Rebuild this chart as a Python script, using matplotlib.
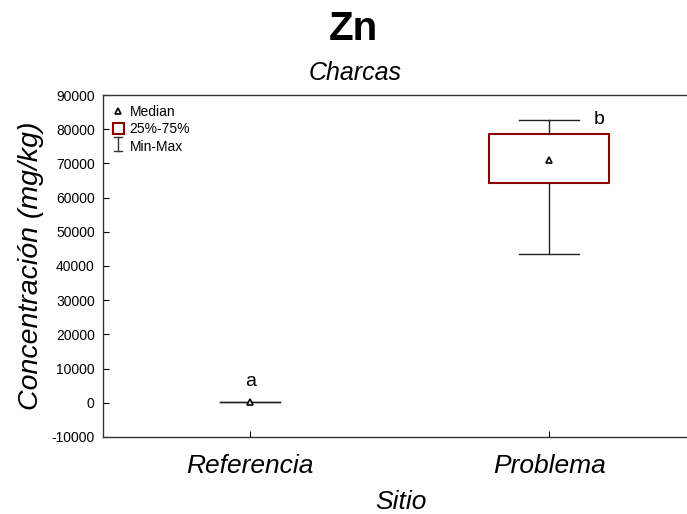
import matplotlib.pyplot as plt
from matplotlib.lines import Line2D
from matplotlib.patches import Patch
from matplotlib.legend_handler import HandlerBase

plt.rcParams['font.family'] = ['Liberation Sans', 'DejaVu Sans']
plt.rcParams['axes.unicode_minus'] = False

# datos (mg/kg)
sitios = ['Referencia', 'Problema']
minimos = [300, 43500]
q1 = [300, 64300]
medianas = [300, 71000]
q3 = [300, 78600]
maximos = [300, 82800]
letras = ['a', 'b']


class HandlerMinMax(HandlerBase):
    # simbolo tipo "I" para la leyenda
    def create_artists(self, legend, orig_handle, xd, yd, width, height, fontsize, trans):
        cx = xd + width / 2
        w = width * 0.35
        lines = [
            Line2D([cx, cx], [yd - 1, yd + height + 1]),
            Line2D([cx - w, cx + w], [yd + height + 1, yd + height + 1]),
            Line2D([cx - w, cx + w], [yd - 1, yd - 1]),
        ]
        for ln in lines:
            ln.set_color('#333333')
            ln.set_linewidth(1)
            ln.set_transform(trans)
        return lines


fig = plt.figure(figsize=(6.87, 5.14), dpi=100)
ax = fig.add_axes([0.150, 0.150, 0.8668, 0.665])

stats = []
for i, s in enumerate(sitios):
    stats.append({'label': s, 'whislo': minimos[i], 'q1': q1[i], 'med': medianas[i],
                  'q3': q3[i], 'whishi': maximos[i], 'fliers': []})

bp = ax.bxp(stats, positions=[0, 1], widths=0.4, capwidths=0.2, showfliers=False,
            boxprops=dict(color='#8b0000', linewidth=1.5),
            whiskerprops=dict(color='#222222', linewidth=1),
            capprops=dict(color='#222222', linewidth=1),
            medianprops=dict(linewidth=0))
# en Referencia la caja es tan estrecha que no se ve
bp['boxes'][0].set_visible(False)

ax.plot([0, 1], medianas, linestyle='none', marker='^', markersize=5,
        markerfacecolor='white', markeredgecolor='black', markeredgewidth=1.2, zorder=5)

for i, l in enumerate(letras):
    if i == 0:
        ax.text(i, maximos[i] + 3500, l, ha='center', va='bottom', fontsize=14)
    else:
        ax.text(i + 0.15, maximos[i], l, ha='left', va='center', fontsize=14)

ax.set_xlim(-0.492, 1.5)
ax.set_ylim(-10000, 90000)
ax.set_yticks(range(-10000, 90001, 10000))
ax.set_xticks([0, 1])
ax.set_xticklabels(sitios, fontsize=19, style='italic')
ax.tick_params(axis='y', direction='in', length=4, labelsize=10, pad=6)
ax.tick_params(axis='x', direction='in', length=4, pad=12)
ax.spines['right'].set_visible(False)
for sp in ['left', 'bottom', 'top']:
    ax.spines[sp].set_color('#333333')
    ax.spines[sp].set_linewidth(1)

ax.set_ylabel('Concentración (mg/kg)', fontsize=20.5, style='italic')
ax.yaxis.set_label_coords(-0.100, 0.5)
ax.set_xlabel('Sitio', fontsize=19, style='italic', labelpad=9)

fig.text(0.515, 0.944, 'Zn', ha='center', va='center', fontsize=29, fontweight='bold')
fig.text(0.517, 0.858, 'Charcas', ha='center', va='center', fontsize=18, style='italic')

handles = [
    Line2D([], [], linestyle='none', marker='^', markersize=5, markerfacecolor='white',
           markeredgecolor='black', markeredgewidth=1.2),
    Patch(facecolor='white', edgecolor='#8b0000', linewidth=1.5),
    'minmax',
]
leg = ax.legend(handles, ['Median', '25%-75%', 'Min-Max'], loc='upper left',
                frameon=False, fontsize=10, handlelength=0.8, handleheight=0.9,
                handletextpad=0.4, labelspacing=0.25, borderaxespad=0.3,
                handler_map={str: HandlerMinMax()})

fig.savefig('out.png', dpi=100)
